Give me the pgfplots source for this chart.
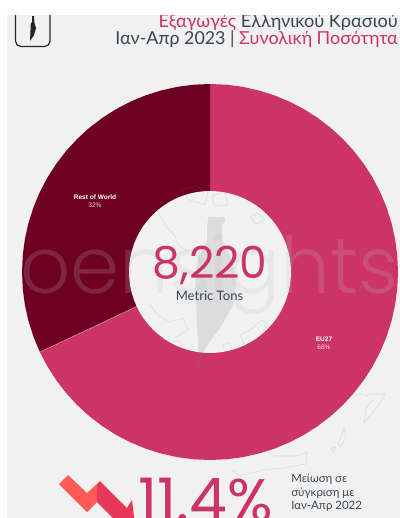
\documentclass[border=0pt]{standalone}
\usepackage{pgfplots}
\pgfplotsset{compat=1.18}
\usepackage{fontspec}
\setmainfont{Lato}
\newfontfamily\wmfont{Poppins Light}
\newfontfamily\numfont{Poppins}
\newfontfamily\labelfont{Liberation Sans}
\definecolor{pagebg}{HTML}{F1F1F1}
\definecolor{rose}{HTML}{CC3366}
\definecolor{wine}{HTML}{6E0022}
\definecolor{ink}{HTML}{3A4654}
\definecolor{coral}{HTML}{FF5A55}
\definecolor{redarrow}{HTML}{E8385A}
\pgfplotsset{canvas/.style={hide axis,scale only axis,width=300pt,height=388.5pt,at={(0pt,0pt)},anchor=south west,clip=false}}
\tikzset{coast/.style={draw=gray,draw opacity=0.18,line width=0.45pt,line join=round}}
\begin{document}
\begin{tikzpicture}
\path[use as bounding box,clip] (0,0) rectangle (300pt,388.5pt);
\fill[pagebg] (5.25pt,0) rectangle (300pt,377.25pt);
% Donut: angles are polar degrees, the outer radius is 188 units
\begin{axis}[canvas,xmin=-210,xmax=190,ymin=-246,ymax=272]
\addplot[fill=rose,draw=none,data cs=polar] coordinates {
(90,188)(85,188)(80,188)(75,188)(70,188)(65,188)(60,188)(55,188)(50,188)(45,188)
(40,188)(35,188)(30,188)(25,188)(20,188)(15,188)(10,188)(5,188)(0,188)
(-5,188)(-10,188)(-15,188)(-20,188)(-25,188)(-30,188)(-35,188)(-40,188)(-45,188)
(-50,188)(-55,188)(-60,188)(-65,188)(-70,188)(-75,188)(-80,188)(-85,188)(-90,188)
(-95,188)(-100,188)(-105,188)(-110,188)(-115,188)(-120,188)(-125,188)(-130,188)
(-135,188)(-140,188)(-145,188)(-150,188)(-154.8,188)(0,0)};
\addplot[fill=wine,draw=none,data cs=polar] coordinates {
(-154.8,188)(-160,188)(-165,188)(-170,188)(-175,188)(-180,188)(-185,188)(-190,188)
(-195,188)(-200,188)(-205,188)(-210,188)(-215,188)(-220,188)(-225,188)(-230,188)
(-235,188)(-240,188)(-245,188)(-250,188)(-255,188)(-260,188)(-265,188)(-270,188)(0,0)};
\addplot[draw=white,draw opacity=0.5,line width=0.4pt,data cs=polar] coordinates {(-154.8,188)(-154.8,81)};
% Hole of the ring
\addplot[fill=pagebg,draw=none,data cs=polar] coordinates {
(0,81)(5,81)(10,81)(15,81)(20,81)(25,81)(30,81)(35,81)(40,81)(45,81)(50,81)(55,81)
(60,81)(65,81)(70,81)(75,81)(80,81)(85,81)(90,81)(95,81)(100,81)(105,81)(110,81)
(115,81)(120,81)(125,81)(130,81)(135,81)(140,81)(145,81)(150,81)(155,81)(160,81)
(165,81)(170,81)(175,81)(180,81)(185,81)(190,81)(195,81)(200,81)(205,81)(210,81)
(215,81)(220,81)(225,81)(230,81)(235,81)(240,81)(245,81)(250,81)(255,81)(260,81)
(265,81)(270,81)(275,81)(280,81)(285,81)(290,81)(295,81)(300,81)(305,81)(310,81)
(315,81)(320,81)(325,81)(330,81)(335,81)(340,81)(345,81)(350,81)(355,81)};
\end{axis}
% Overlay in page units, y growing downward
\begin{axis}[canvas,xmin=0,xmax=400,ymin=0,ymax=518,y dir=reverse]
% Bottle and Aegean coastlines behind the text
\addplot[fill=gray,fill opacity=0.18,draw=none] coordinates {
(208,217)(225,217)(225,222)(222,224)(222,240)(231,258)(236,285)(233,305)(222,325)(206,347)(197,368)(198,340)(195,285)(198,258)(207,240)(207,224)(208,222)};
\addplot[coast] coordinates {(180,190)(190,200)(205,205)(208,192)(196,186)(180,190)};
\addplot[coast] coordinates {(212,196)(225,192)(228,205)(215,206)(212,196)};
\addplot[coast] coordinates {(250,217)(258,213)(265,220)(256,224)(250,217)};
\addplot[coast] coordinates {(157,210)(165,225)(175,236)(178,245)(188,252)};
\addplot[coast] coordinates {(150,305)(158,315)(170,322)(183,318)(188,330)(175,338)};
\addplot[coast] coordinates {(165,345)(178,340)(184,350)(176,356)(165,345)};
\addplot[coast] coordinates {(240,335)(250,330)(262,320)(268,325)(258,338)(245,345)(240,335)};
\addplot[coast] coordinates {(223,345)(230,342)(232,350)(225,352)(223,345)};
\addplot[coast] coordinates {(365,396)(372,394)(385,394)(379,405)(368,418)(364,423)(366,408)(373,400)};
\addplot[coast] coordinates {(356,395)(362,394)};
\addplot[coast] coordinates {(344,428)(346,436)(341,447)(338,444)(342,434)(344,428)};
\addplot[coast] coordinates {(330,449)(336,447)(333,452)(330,449)};
\addplot[coast] coordinates {(266,451)(275,456)(296,456)(307,452)(306,464)(284,468)(262,470)(240,476)(232,470)};
% Wordmark across the ring
\node[anchor=base west,inner sep=0pt,text=black!25,opacity=0.2] at (axis cs:20,293) {\wmfont\fontsize{59}{59}\selectfont oensights};
% Centre figure
\node[anchor=base,inner sep=0pt,text=rose] at (axis cs:210,278) {\numfont\fontsize{33}{33}\selectfont 8,220};
\node[anchor=base,inner sep=0pt,text=ink] at (axis cs:209.5,300.5) {\fontsize{9.8}{10}\selectfont Metric Tons};
% Sector labels
\node[anchor=base,inner sep=0pt,text=white] at (axis cs:95,199) {\labelfont\bfseries\fontsize{4.9}{5}\selectfont Rest of World};
\node[anchor=base,inner sep=0pt,text=white,opacity=0.85] at (axis cs:95,207) {\labelfont\fontsize{4.9}{5}\selectfont 32\%};
\node[anchor=base,inner sep=0pt,text=white] at (axis cs:324,341) {\labelfont\bfseries\fontsize{4.9}{5}\selectfont EU27};
\node[anchor=base,inner sep=0pt,text=white,opacity=0.85] at (axis cs:324,349) {\labelfont\fontsize{4.9}{5}\selectfont 68\%};
% Year-on-year change
\addplot[fill=coral,draw=none] coordinates {(68,475)(59,484)(87,512)(97,502)(97,484)(87,493)};
\addplot[fill=redarrow,draw=none] coordinates {(97,484)(100,481)(127,508)(132,500)(135,525)(108,525)(113,518)(97,502)};
\node[anchor=base west,inner sep=0pt,text=rose] at (axis cs:138,521) {\numfont\fontsize{45}{45}\selectfont 11.4\%};
\node[anchor=base west,inner sep=0pt,text=ink] at (axis cs:291,482) {\fontsize{8.6}{9}\selectfont Μείωση σε};
\node[anchor=base west,inner sep=0pt,text=ink] at (axis cs:291,496) {\fontsize{8.6}{9}\selectfont σύγκριση με};
\node[anchor=base west,inner sep=0pt,text=ink] at (axis cs:291,509.5) {\fontsize{8.6}{9}\selectfont Ιαν-Απρ 2022};
% Header block, cut off by the top edge of the panel
\begin{scope}
\clip (axis cs:7,15) rectangle (axis cs:400,518);
\node[anchor=base east,inner sep=0pt] at (axis cs:398,27) {\fontsize{13.6}{14}\selectfont\textcolor{rose}{Εξαγωγές} \textcolor{ink}{Ελληνικού Κρασιού}};
\node[anchor=base east,inner sep=0pt] at (axis cs:398,44.5) {\fontsize{13.4}{14}\selectfont\textcolor{ink}{Ιαν-Απρ 2023 |} \textcolor{rose}{Συνολική Ποσότητα}};
\draw[black!85,line width=0.9pt,rounded corners=4pt] (axis cs:15.5,5) rectangle (axis cs:50,46.5);
\addplot[fill=black!85,draw=none] coordinates {(32,16)(34,16)(34.5,23)(36,28)(34,35)(30,41)(30.5,30)(30.5,24)(32,22)};
\end{scope}
\end{axis}
\end{tikzpicture}
\end{document}
